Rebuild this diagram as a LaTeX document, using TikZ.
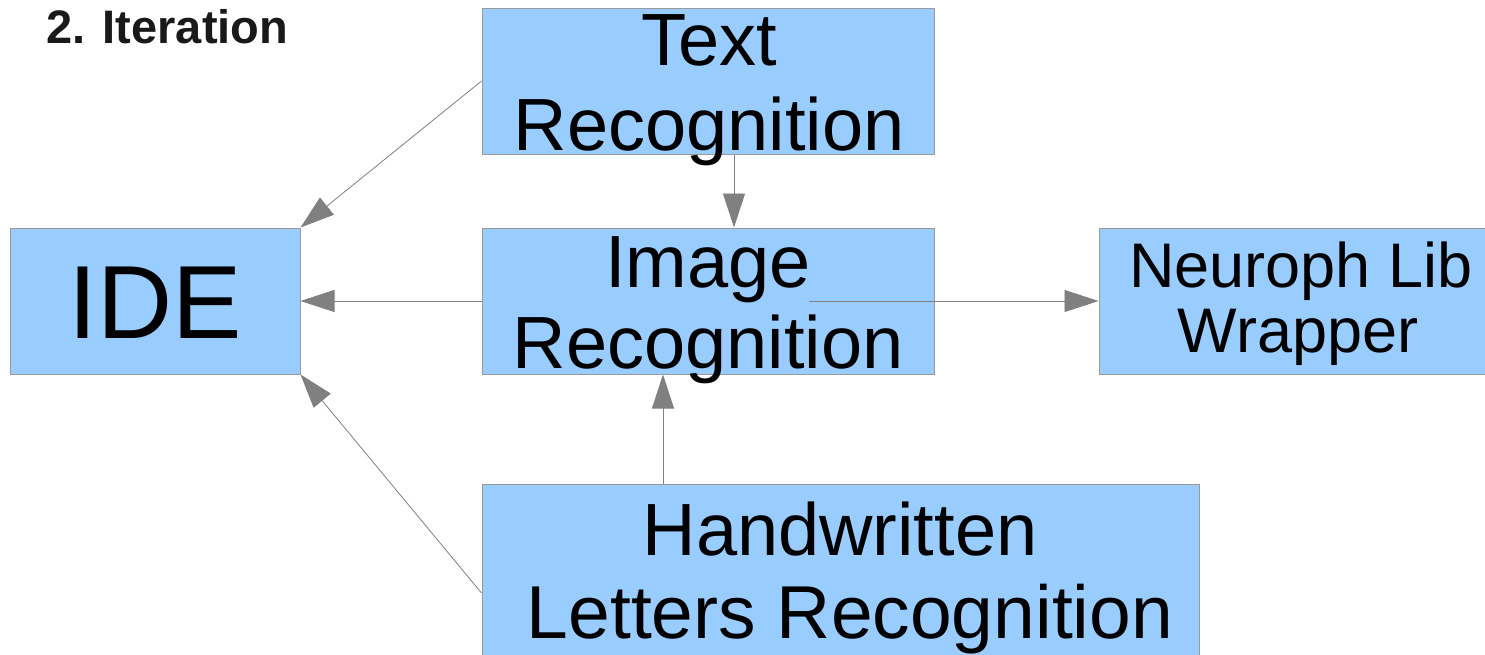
\documentclass[tikz,border=0pt]{standalone}
\usepackage{fontspec}
\setmainfont{Liberation Sans}
\usetikzlibrary{arrows.meta}
\definecolor{boxfill}{HTML}{99CCFF}
\definecolor{boxline}{HTML}{9A9A9A}
\definecolor{arrowgray}{HTML}{808080}
\tikzset{
  module/.style={draw=boxline, line width=1pt, fill=boxfill, inner sep=0pt, rectangle},
  link/.style={draw=arrowgray, line width=0.8pt,
    -{Triangle[length=34pt, width=22pt, fill=arrowgray]}},
  label/.style={inner sep=0pt, anchor=base, font=\fontsize{74}{84}\selectfont},
  smalllabel/.style={inner sep=0pt, anchor=base, font=\fontsize{63}{70}\selectfont},
}
\begin{document}
\begin{tikzpicture}[x=1pt, y=-1pt]
\useasboundingbox (0,0) rectangle (1485,654);
\clip (0,0) rectangle (1485,654);
\fill[white] (0,0) rectangle (1485,654);

% modules
\node[module, minimum width=452pt, minimum height=146pt] (textrec) at (708,81) {};
\node[module, minimum width=290pt, minimum height=146pt] (ide) at (155,301) {};
\node[module, minimum width=452pt, minimum height=146pt] (imgrec) at (708,301) {};
\node[module, minimum width=402pt, minimum height=146pt] (neuroph) at (1300,301) {};
\node[module, minimum width=717pt, minimum height=218pt] (hw) at (840.5,593) {};
\coordinate (imgout) at (809,301);

% dependencies
\draw[link] (textrec.west) -- (ide.north east);
\draw[link] ([xshift=26pt]textrec.south) -- ([xshift=26pt]textrec.south |- imgrec.north);
\draw[link] (imgrec.west) -- (ide.east);
\draw[link] (imgout) -- (neuroph.west);
\draw[link] ([xshift=-177.5pt]hw.north) -- ([xshift=-177.5pt]hw.north |- imgrec.south);
\draw[link] (hw.west) -- (ide.south east);

% labels
\node[inner sep=0pt, anchor=base west, font=\fontsize{47}{56}\selectfont\bfseries, text=black!90] (title) at (46,43) {2. Iteration};
\node[label] (t1) at (709,65) {Text};
\node[label] (t2) at (709,150) {Recognition};
\node[label] (i1) at (708,287) {Image};
\node[label] (i2) at (708,368) {Recognition};
\node[inner sep=0pt, anchor=base, font=\fontsize{104}{120}\selectfont] (idel) at (155,338) {IDE};
\node[smalllabel] (n1) at (1301,287) {Neuroph Lib};
\node[smalllabel] (n2) at (1298,352) {Wrapper};
\node[label] (h1) at (840,555) {Handwritten};
\node[label, font=\fontsize{75}{84}\selectfont] (h2) at (850,638) {Letters Recognition};
\end{tikzpicture}
\end{document}
